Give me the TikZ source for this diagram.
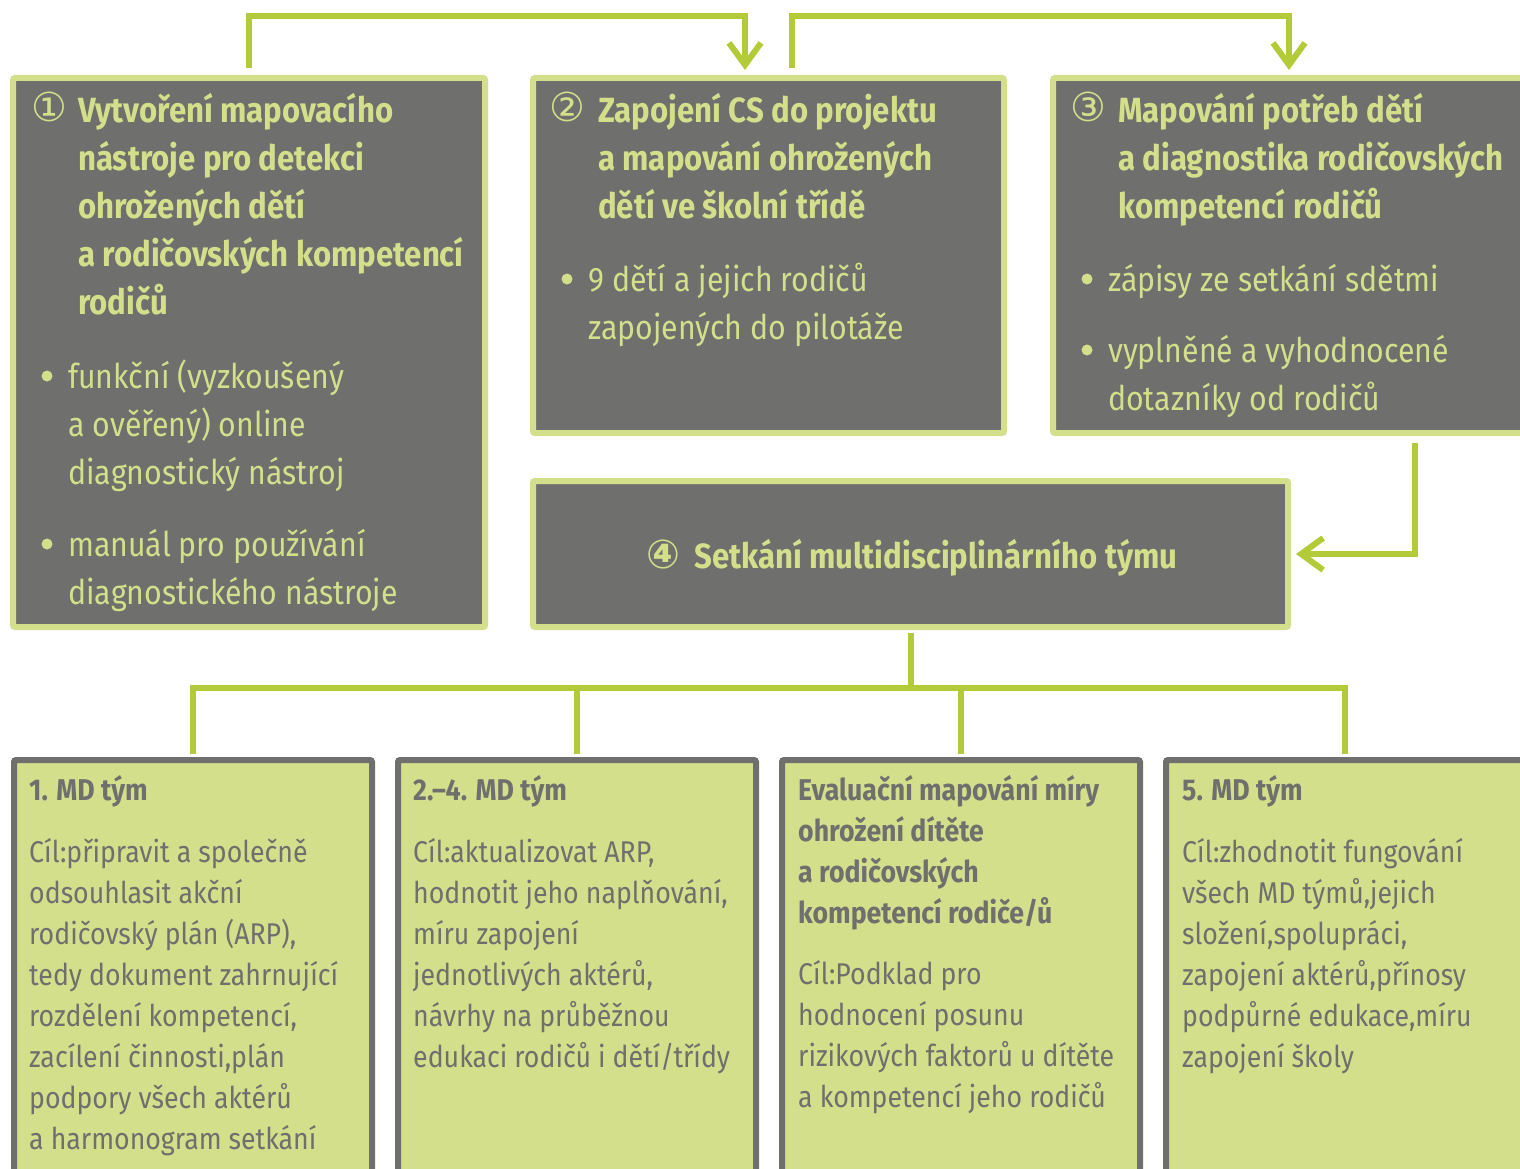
\documentclass[tikz,border=0pt]{standalone}
\usepackage{fontspec}
\setmainfont{Fira Sans}[FakeStretch=0.89]
\newfontfamily\circfont{DejaVu Sans}
\usetikzlibrary{arrows.meta}

\definecolor{boxgray}{HTML}{6F6F6E}
\definecolor{palegreen}{HTML}{D3DF8B}
\definecolor{linegreen}{HTML}{B3CB38}

\newcommand{\headfont}{\bfseries\fontsize{35}{48}\selectfont}
\newcommand{\itemfont}{\fontsize{34}{48}\selectfont}
\newcommand{\numfont}{\circfont\fontsize{40}{48}\selectfont}
\newcommand{\teamhead}{\bfseries\fontsize{30}{41}\selectfont}
\newcommand{\teamfont}{\fontsize{30}{41}\selectfont}

\begin{document}
\begin{tikzpicture}[x=1pt,y=-1pt,
    stepbox/.style={rectangle,draw=palegreen,fill=boxgray,line width=6pt,rounded corners=2pt,inner sep=0pt},
    teambox/.style={rectangle,draw=boxgray,fill=palegreen,line width=6pt,rounded corners=2pt,inner sep=0pt,minimum width=358pt,minimum height=430pt},
    flow/.style={draw=linegreen,line width=6pt},
    tip/.style={-{Straight Barb[length=22pt,width=32pt]}},
    head/.style={text=palegreen,font=\headfont,anchor=north west,inner sep=0pt,align=left},
    item/.style={text=palegreen,font=\itemfont,anchor=north west,inner sep=0pt,align=left},
    dot/.style={circle,fill=palegreen,minimum size=11pt,inner sep=0pt},
    num/.style={text=palegreen,font=\numfont,anchor=base west,inner sep=0pt},
    thead/.style={text=boxgray,font=\teamhead,anchor=north west,inner sep=0pt,align=left},
    tbody/.style={text=boxgray,font=\teamfont,anchor=north west,inner sep=0pt,align=left}]

    \useasboundingbox (0,0) rectangle (1520,1169);

    % steps
    \node[stepbox,minimum width=472pt,minimum height=549pt] (step1) at (249,352.5) {};
    \node[stepbox,minimum width=471pt,minimum height=355pt] (step2) at (768.5,255.5) {};
    \node[stepbox,minimum width=472pt,minimum height=355pt] (step3) at (1289,255.5) {};
    \node[stepbox,minimum width=755pt,minimum height=146pt] (meeting) at (910.5,554) {};

    % teams
    \node[teambox] (team1) at (193,975) {};
    \node[teambox] (team2) at (577,975) {};
    \node[teambox] (team3) at (961,975) {};
    \node[teambox] (team4) at (1345,975) {};

    \coordinate (topline) at (0,16.5);
    \coordinate (bus) at (0,688);

    % connectors
    \draw[flow,tip,shorten <=7pt,shorten >=5pt] (step1.north) -- (step1.north |- topline) -| ([xshift=-23.5pt]step2.north);
    \draw[flow,tip,shorten <=7pt,shorten >=5pt] ([xshift=23.5pt]step2.north) -- ([xshift=23.5pt]step2.north |- topline) -| (step3.north);
    \draw[flow,tip,shorten <=7pt,shorten >=5pt] ([xshift=126pt]step3.south) |- (meeting.east);
    \draw[flow,shorten <=3pt] (meeting.south) -- (meeting.south |- bus);
    \draw[flow,shorten <=3pt,shorten >=3pt] (team1.north) -- (team1.north |- bus) -| (team4.north);
    \draw[flow,shorten >=3pt] (team2.north |- bus) -- (team2.north);
    \draw[flow,shorten >=3pt] (team3.north |- bus) -- (team3.north);

    % step 1
    \node[num] (n1) at (31,122) {①};
    \node[head] (head1) at (78,88.4) {\strut Vytvoření mapovacího\\ nástroje pro detekci\\ ohrožených dětí\\ a~rodičovských kompetencí\\ rodičů};
    \node[dot] (d1a) at (47,376) {};
    \node[item] (item1a) at (68,354.4) {\strut funkční (vyzkoušený\\ a~ověřený) online\\ diagnostický nástroj};
    \node[dot] (d1b) at (47,544) {};
    \node[item] (item1b) at (68,522.4) {\strut manuál pro používání\\ diagnostického nástroje};

    % step 2
    \node[num] (n2) at (549,122) {②};
    \node[head] (head2) at (598,88.4) {\strut Zapojení CS do projektu\\ a~mapování ohrožených\\ dětí ve školní třídě};
    \node[dot] (d2a) at (567,279) {};
    \node[item] (item2a) at (588,257.4) {\strut 9 dětí a jejich rodičů\\ zapojených do pilotáže};

    % step 3
    \node[num] (n3) at (1070,122) {③};
    \node[head] (head3) at (1118,88.4) {\strut Mapování potřeb dětí\\ a~diagnostika rodičovských\\ kompetencí rodičů};
    \node[dot] (d3a) at (1087,279) {};
    \node[item] (item3a) at (1108,257.4) {\strut zápisy ze setkání sdětmi};
    \node[dot] (d3b) at (1087,350) {};
    \node[item] (item3b) at (1108,328.4) {\strut vyplněné a vyhodnocené\\ dotazníky od rodičů};

    % step 4
    \node[text=palegreen,font=\headfont,anchor=base,inner sep=0pt] (head4) at (912,568) {{\numfont ④}\hspace{14pt}Setkání multidisciplinárního týmu};

    % team texts
    \node[thead] (th1) at (29,771.3) {\strut 1. MD tým};
    \node[tbody] (tb1) at (29,833.3) {\strut Cíl:připravit a společně\\ odsouhlasit akční\\ rodičovský plán (ARP),\\ tedy dokument zahrnující\\ rozdělení kompetencí,\\ zacílení činnosti,plán\\ podpory všech aktérů\\ a~harmonogram setkání};

    \node[thead] (th2) at (413,771.3) {\strut 2.–4. MD tým};
    \node[tbody] (tb2) at (413,833.3) {\strut Cíl:aktualizovat ARP,\\ hodnotit jeho naplňování,\\ míru zapojení\\ jednotlivých aktérů,\\ návrhy na průběžnou\\ edukaci rodičů i dětí/třídy};

    \node[thead] (th3) at (798,771.3) {\strut Evaluační mapování míry\\ ohrožení dítěte\\ a~rodičovských\\ kompetencí rodiče/ů};
    \node[tbody] (tb3) at (798,955.3) {\strut Cíl:Podklad pro\\ hodnocení posunu\\ rizikových faktorů u~dítěte\\ a~kompetencí jeho rodičů};

    \node[thead] (th4) at (1182,771.3) {\strut 5. MD tým};
    \node[tbody] (tb4) at (1182,833.3) {\strut Cíl:zhodnotit fungování\\ všech MD týmů,jejich\\ složení,spolupráci,\\ zapojení aktérů,přínosy\\ podpůrné edukace,míru\\ zapojení školy};
\end{tikzpicture}
\end{document}
